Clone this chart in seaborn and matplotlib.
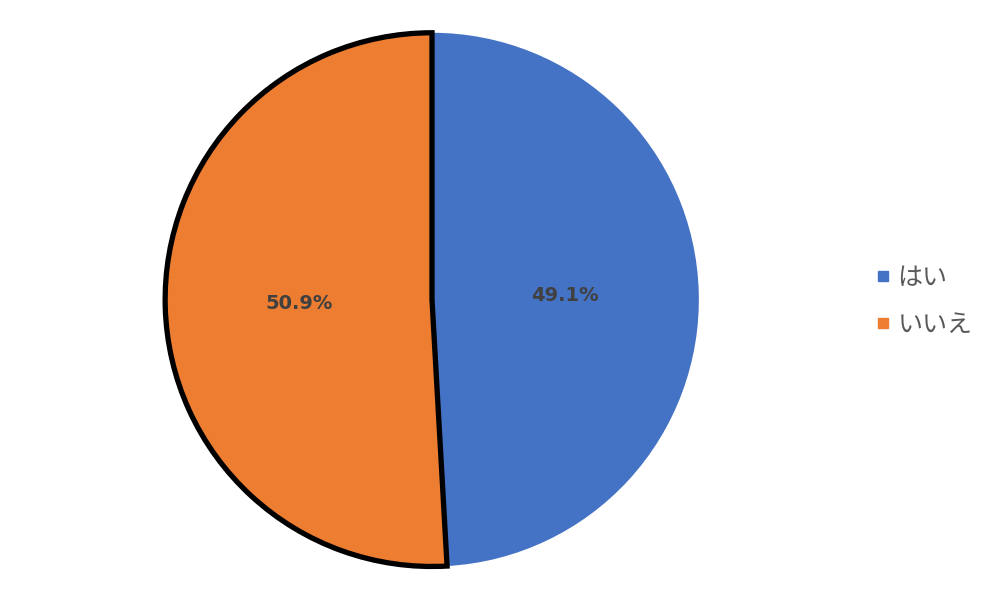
import matplotlib
matplotlib.use("Agg")
import matplotlib.pyplot as plt
import seaborn as sns
from matplotlib.lines import Line2D

# data
labels = ["はい", "いいえ"]
values = [49.1, 50.9]
colors = ["#4472C4", "#ED7D31"]

sns.set_theme(style="white")
plt.rcParams['font.family'] = ['Noto Sans CJK JP', 'DejaVu Sans']

fig = plt.figure(figsize=(10, 5.99), dpi=100)
ax = fig.add_axes([0.165, 0.0543, 0.534, 0.891])

wedges, texts, autotexts = ax.pie(
    values,
    colors=sns.color_palette(colors),
    startangle=90,
    counterclock=False,
    autopct="%.1f%%",
    pctdistance=0.5,
    radius=1.0,
    wedgeprops=dict(linewidth=0),
    textprops=dict(color="#404040", fontsize=14, fontweight="bold",
                   family=['DejaVu Sans']),
)

# black outline only on the "いいえ" slice
wedges[1].set_edgecolor("black")
wedges[1].set_linewidth(3.8)
wedges[1].set_joinstyle("miter")

ax.set_xlim(-1.0, 1.0)
ax.set_ylim(-1.0, 1.0)
ax.set_aspect("equal")
ax.axis("off")

handles = [Line2D([0], [0], marker="s", linestyle="", markersize=7,
                  markerfacecolor=c, markeredgecolor=c) for c in colors]
fig.legend(handles, labels, loc="center left", bbox_to_anchor=(0.85, 0.497),
           frameon=False, fontsize=18, labelcolor="#595959",
           handletextpad=0.2, labelspacing=0.85, handlelength=0.8)

fig.savefig("out.png", dpi=100, facecolor="white")
